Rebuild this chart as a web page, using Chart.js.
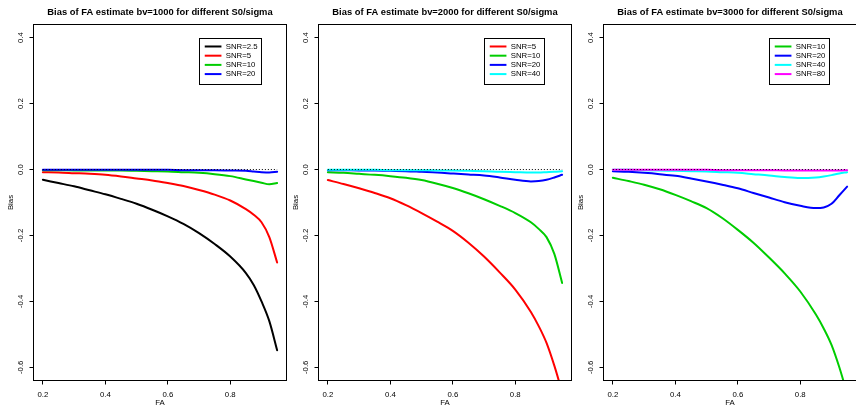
<!DOCTYPE html>
<html>
<head>
<meta charset="utf-8">
<script src="https://cdn.jsdelivr.net/npm/chart.js@4/dist/chart.umd.min.js"></script>
<style>
  html, body { margin: 0; padding: 0; background: #ffffff; overflow: hidden; }
  #wrap { position: relative; width: 856px; height: 406px; overflow: hidden; }
  .panel { position: absolute; top: 0; width: 287px; height: 406px; }
  .panel canvas { display: block; }
</style>
</head>
<body>
<div id="wrap">
  <div class="panel" style="left:0px"><canvas id="c1" width="287" height="406"></canvas></div>
  <div class="panel" style="left:285px"><canvas id="c2" width="287" height="406"></canvas></div>
  <div class="panel" style="left:570px"><canvas id="c3" width="287" height="406"></canvas></div>
</div>
<script>
// ---------- DATA ----------
const faValues = [0.2, 0.25, 0.3, 0.35, 0.4, 0.45, 0.5, 0.55, 0.6, 0.65, 0.7, 0.75, 0.8, 0.85, 0.875, 0.9, 0.925, 0.95];
const xTickValues = [0.2, 0.4, 0.6, 0.8];
const yTickValues = [-0.6, -0.4, -0.2, 0.0, 0.2, 0.4];
const refLineX = [0.2, 0.95];
const refLineY = [0, 0];
const legendAnchor = [0.7, 0.4];

const panelTitles = [
  "Bias of FA estimate bv=1000 for different S0/sigma",
  "Bias of FA estimate bv=2000 for different S0/sigma",
  "Bias of FA estimate bv=3000 for different S0/sigma"
];
const xAxisTitle = "FA";
const yAxisTitle = "Bias";

// bv = 1000
const labels1000 = ["SNR=2.5", "SNR=5", "SNR=10", "SNR=20"];
const bias1000_snr2_5 = [-0.031,-0.041,-0.051,-0.063,-0.075,-0.089,-0.104,-0.122,-0.142,-0.165,-0.193,-0.226,-0.264,-0.314,-0.350,-0.400,-0.460,-0.548];
const bias1000_snr5   = [-0.008,-0.009,-0.011,-0.013,-0.016,-0.021,-0.027,-0.033,-0.041,-0.050,-0.062,-0.076,-0.094,-0.120,-0.137,-0.160,-0.205,-0.282];
const bias1000_snr10  = [-0.002,-0.002,-0.003,-0.003,-0.003,-0.003,-0.004,-0.005,-0.006,-0.008,-0.010,-0.014,-0.020,-0.030,-0.035,-0.040,-0.045,-0.041];
const bias1000_snr20  = [-0.001,-0.001,-0.001,-0.001,-0.001,-0.001,-0.001,-0.001,-0.001,-0.002,-0.002,-0.002,-0.003,-0.004,-0.006,-0.008,-0.009,-0.007];

// bv = 2000
const labels2000 = ["SNR=5", "SNR=10", "SNR=20", "SNR=40"];
const bias2000_snr5  = [-0.032,-0.044,-0.057,-0.071,-0.087,-0.108,-0.132,-0.158,-0.186,-0.222,-0.264,-0.312,-0.364,-0.432,-0.475,-0.526,-0.595,-0.675];
const bias2000_snr10 = [-0.008,-0.010,-0.013,-0.016,-0.020,-0.025,-0.032,-0.043,-0.056,-0.072,-0.090,-0.110,-0.132,-0.160,-0.180,-0.205,-0.256,-0.344];
const bias2000_snr20 = [-0.002,-0.002,-0.003,-0.003,-0.004,-0.005,-0.007,-0.009,-0.012,-0.015,-0.018,-0.024,-0.031,-0.036,-0.035,-0.031,-0.024,-0.016];
const bias2000_snr40 = [-0.001,-0.001,-0.001,-0.001,-0.002,-0.002,-0.002,-0.003,-0.003,-0.004,-0.005,-0.007,-0.008,-0.009,-0.009,-0.008,-0.007,-0.005];

// bv = 3000
const labels3000 = ["SNR=10", "SNR=20", "SNR=40", "SNR=80"];
const bias3000_snr10 = [-0.025,-0.035,-0.046,-0.060,-0.077,-0.096,-0.117,-0.147,-0.183,-0.222,-0.267,-0.315,-0.370,-0.440,-0.482,-0.532,-0.600,-0.680];
const bias3000_snr20 = [-0.005,-0.007,-0.010,-0.014,-0.019,-0.027,-0.036,-0.046,-0.057,-0.071,-0.085,-0.099,-0.110,-0.117,-0.115,-0.104,-0.078,-0.052];
const bias3000_snr40 = [-0.001,-0.001,-0.002,-0.003,-0.004,-0.005,-0.006,-0.008,-0.010,-0.014,-0.018,-0.023,-0.026,-0.024,-0.021,-0.017,-0.012,-0.008];
const bias3000_snr80 = [-0.001,-0.001,-0.001,-0.001,-0.001,-0.001,-0.001,-0.002,-0.002,-0.002,-0.002,-0.003,-0.003,-0.003,-0.003,-0.003,-0.003,-0.002];

// ---------- STYLE ----------
const C = { black: "#000000", red: "#FF0000", green: "#00CD00", blue: "#0000FF", cyan: "#00FFFF", magenta: "#FF00FF" };
const FONT = "'Liberation Sans', Arial, Helvetica, sans-serif";

const panels = [
  { canvas: "c1", title: panelTitles[0], labels: labels1000,
    series: [bias1000_snr2_5, bias1000_snr5, bias1000_snr10, bias1000_snr20],
    colors: [C.black, C.red, C.green, C.blue] },
  { canvas: "c2", title: panelTitles[1], labels: labels2000,
    series: [bias2000_snr5, bias2000_snr10, bias2000_snr20, bias2000_snr40],
    colors: [C.red, C.green, C.blue, C.cyan] },
  { canvas: "c3", title: panelTitles[2], labels: labels3000,
    series: [bias3000_snr10, bias3000_snr20, bias3000_snr40, bias3000_snr80],
    colors: [C.green, C.blue, C.cyan, C.magenta] }
];

const boxPlugin = {
  id: "rbox",
  afterDraw(chart) {
    const a = chart.chartArea, ctx = chart.ctx;
    ctx.save();
    ctx.strokeStyle = "#000";
    ctx.lineWidth = 1;
    ctx.strokeRect(a.left, a.top, a.right - a.left, a.bottom - a.top);
    ctx.restore();
  }
};

const rLegendPlugin = {
  id: "rlegend",
  afterDraw(chart) {
    const ctx = chart.ctx;
    const xs = chart.scales.x, ys = chart.scales.y;
    const items = chart.data.datasets.filter(d => d.showInLegend);
    const L = xs.getPixelForValue(legendAnchor[0]);
    const T = ys.getPixelForValue(legendAnchor[1]);
    ctx.save();
    ctx.font = "7.8px " + FONT;
    let maxW = 0;
    items.forEach(d => { maxW = Math.max(maxW, ctx.measureText(d.label).width); });
    const padL = 5.7, seg = 16.7, gap = 4.3, padR = 3.2, rowH = 9.2, firstRow = 8.8, padB = 9.7;
    const W = padL + seg + gap + maxW + padR;
    const H = firstRow + rowH * (items.length - 1) + padB;
    const Lr = Math.round(L) + 0.5, Tr = Math.round(T) + 0.5;
    ctx.fillStyle = "#fff";
    ctx.fillRect(Lr, Tr, W, H);
    ctx.strokeStyle = "#000";
    ctx.lineWidth = 1;
    ctx.strokeRect(Lr, Tr, Math.round(W), Math.round(H));
    items.forEach((d, i) => {
      const y = T + firstRow + i * rowH;
      ctx.strokeStyle = d.borderColor;
      ctx.lineWidth = 2;
      ctx.beginPath();
      ctx.moveTo(L + padL, y);
      ctx.lineTo(L + padL + seg, y);
      ctx.stroke();
      ctx.fillStyle = "#000";
      ctx.textAlign = "left";
      ctx.textBaseline = "middle";
      ctx.fillText(d.label, L + padL + seg + gap, y);
    });
    ctx.restore();
  }
};

function makeChart(p) {
  const n = p.series.length;
  const datasets = p.series.map((s, i) => ({
    label: p.labels[i],
    showInLegend: true,
    data: faValues.map((x, k) => ({ x: x, y: s[k] })),
    borderColor: p.colors[i],
    backgroundColor: p.colors[i],
    borderWidth: 2,
    pointRadius: 0,
    cubicInterpolationMode: "monotone",
    fill: false,
    borderCapStyle: "round",
    borderJoinStyle: "round",
    order: n - i + 1
  }));
  datasets.push({
    label: "ref",
    showInLegend: false,
    data: refLineX.map((x, k) => ({ x: x, y: refLineY[k] })),
    borderColor: "#000",
    borderWidth: 1,
    borderDash: [1, 2],
    pointRadius: 0,
    fill: false,
    order: 0
  });

  return new Chart(document.getElementById(p.canvas), {
    type: "line",
    data: { datasets: datasets },
    plugins: [boxPlugin, rLegendPlugin],
    options: {
      responsive: false,
      animation: false,
      events: [],
      layout: { padding: { left: 0, right: 0.5, top: 0, bottom: 0 } },
      plugins: {
        legend: { display: false },
        tooltip: { enabled: false },
        title: {
          display: true,
          text: p.title,
          fullSize: false,
          color: "#000",
          font: { family: FONT, size: 9.4, weight: "bold", lineHeight: 1.2 },
          padding: { top: 7, bottom: 6.22 }
        }
      },
      scales: {
        x: {
          type: "linear",
          min: 0.17,
          max: 0.98,
          afterBuildTicks: s => { s.ticks = xTickValues.map(v => ({ value: v })); },
          afterFit: s => { s.height = 25.5; },
          grid: { display: true, drawOnChartArea: false, drawTicks: true, tickLength: 4, color: "#000", tickColor: "#000" },
          border: { display: false },
          ticks: {
            color: "#000",
            padding: 6,
            maxRotation: 0,
            autoSkip: false,
            font: { family: FONT, size: 7.8, lineHeight: 1.2 },
            callback: v => v.toFixed(1)
          },
          title: {
            display: true,
            text: xAxisTitle,
            color: "#000",
            font: { family: FONT, size: 7.8, lineHeight: 1 },
            padding: { top: 0, bottom: -1 }
          }
        },
        y: {
          type: "linear",
          min: -0.64,
          max: 0.44,
          afterBuildTicks: s => { s.ticks = yTickValues.map(v => ({ value: v })); },
          afterFit: s => { s.width = 33.5; },
          grid: { display: true, drawOnChartArea: false, drawTicks: true, tickLength: 4, color: "#000", tickColor: "#000" },
          border: { display: false },
          ticks: {
            color: "#000",
            padding: 2.2,
            minRotation: 90,
            maxRotation: 90,
            crossAlign: "center",
            autoSkip: false,
            font: { family: FONT, size: 7.8, lineHeight: 1.2 },
            callback: v => v.toFixed(1)
          },
          title: {
            display: true,
            text: yAxisTitle,
            color: "#000",
            font: { family: FONT, size: 7.8, lineHeight: 1 },
            padding: { top: 7.1, bottom: 0 }
          }
        }
      }
    }
  });
}

panels.forEach(makeChart);
</script>
</body>
</html>
